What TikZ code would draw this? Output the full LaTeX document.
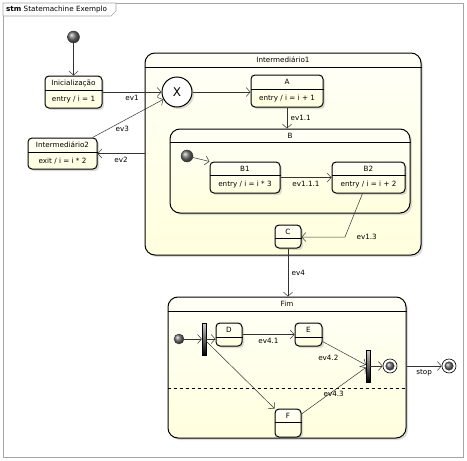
\documentclass[tikz,border=0pt]{standalone}
\usepackage{fontspec}
\setmainfont{DejaVu Sans}
\usetikzlibrary{positioning,arrows.meta,shadows}

\begin{document}
\begin{tikzpicture}[x=1pt,y=-1pt,font=\fontsize{7.2}{8}\selectfont,
  tr/.style={draw=black!80,line width=.5pt,-{Straight Barb[length=4pt,width=9pt]}},
  st/.style={draw,line width=1pt,rounded corners=4pt,top color=yellow!3,bottom color=yellow!13,
    drop shadow={shadow xshift=2pt,shadow yshift=-2pt,fill=black!40,opacity=.35}},
  big/.style={st,rounded corners=10pt},
  div/.style={line width=.5pt},
  ini/.style={circle,minimum size=12,inner sep=0,ball color=black!55,draw=black!80,line width=.4pt},
  fin/.style={circle,draw,fill=white,minimum size=14,inner sep=0,line width=.6pt},
  bar/.style={draw=black,line width=.3pt,top color=black!20,bottom color=black,minimum width=4,minimum height=32,inner sep=0}]
\useasboundingbox (0,0) rectangle (467,461);

% frame
\draw[black!35,line width=.6pt] (3,3) rectangle (463,457);
\draw[black!35,line width=.6pt,fill=white] (3,3) -- (116,3) -- (116,11) -- (111,16) -- (3,16) -- cycle;
\node[anchor=west,inner sep=0] (ttl) at (6,9.5) {\textbf{stm} Statemachine Exemplo};

% composite states
\node[big,minimum width=276,minimum height=202] (im1) at (283,154) {};
\draw[div] ([yshift=-15]im1.north west) -- ([yshift=-15]im1.north east);
\node (im1t) at ([yshift=-7.5]im1.north) {Intermediário1};

\node[big,minimum width=240,minimum height=84] (b) at (290,171) {};
\draw[div] ([yshift=-14]b.north west) -- ([yshift=-14]b.north east);
\node (bt) at ([yshift=-7]b.north) {B};

\node[big,minimum width=238,minimum height=141] (fim) at (287,367.5) {};
\draw[div] ([yshift=-15]fim.north west) -- ([yshift=-15]fim.north east);
\draw[div,dashed] (fim.west |- 0,388) -- (fim.east |- 0,388);
\node (fimt) at ([yshift=-7.5]fim.north) {Fim};

% simple states
\node[ini] (s0) at (73.5,37) {};

\node[st,minimum width=57,minimum height=32] (ini) at (73.5,92) {};
\draw[div] ([yshift=-15]ini.north west) -- ([yshift=-15]ini.north east);
\node (init) at ([yshift=-7.5]ini.north) {Inicialização};
\node (inie) at ([yshift=8.5]ini.south) {entry / i = 1};

\node[st,minimum width=69,minimum height=31] (im2) at (62.5,153.5) {};
\draw[div] ([yshift=-15]im2.north west) -- ([yshift=-15]im2.north east);
\node (im2t) at ([yshift=-7.5]im2.north) {Intermediário2};
\node (im2e) at ([yshift=8]im2.south) {exit / i = i * 2};

\node[circle,draw,fill=white,line width=1pt,minimum size=30,inner sep=0,font=\fontsize{12}{13}\selectfont,
  drop shadow={shadow xshift=2pt,shadow yshift=-2pt,fill=black!40,opacity=.35}] (x) at (177,92) {X};

\node[st,minimum width=72,minimum height=32] (a) at (287,91) {};
\draw[div] ([yshift=-15]a.north west) -- ([yshift=-15]a.north east);
\node (at) at ([yshift=-7.5]a.north) {A};
\node (ae) at ([yshift=8.5]a.south) {entry / i = i + 1};

\node[ini] (b0) at (187,156) {};

\node[st,minimum width=70,minimum height=31] (b1) at (245,177.5) {};
\draw[div] ([yshift=-14]b1.north west) -- ([yshift=-14]b1.north east);
\node (b1t) at ([yshift=-7]b1.north) {B1};
\node (b1e) at ([yshift=8.5]b1.south) {entry / i = i * 3};

\node[st,minimum width=73,minimum height=31] (b2) at (368.5,177.5) {};
\draw[div] ([yshift=-14]b2.north west) -- ([yshift=-14]b2.north east);
\node (b2t) at ([yshift=-7]b2.north) {B2};
\node (b2e) at ([yshift=8.5]b2.south) {entry / i = i + 2};

\node[st,minimum width=26,minimum height=23] (c) at (288,236.5) {};
\draw[div] ([yshift=-14]c.north west) -- ([yshift=-14]c.north east);
\node (ct) at ([yshift=-7]c.north) {C};

% inside Fim
\node[ini,minimum size=10] (f0) at (179,339) {};
\node[bar] (fork) at (204,339) {};

\node[st,minimum width=26,minimum height=23] (d) at (229,334.5) {};
\draw[div] ([yshift=-15]d.north west) -- ([yshift=-15]d.north east);
\node (dt) at ([yshift=-7.5]d.north) {D};

\node[st,minimum width=27,minimum height=23] (e) at (308.5,334.5) {};
\draw[div] ([yshift=-15]e.north west) -- ([yshift=-15]e.north east);
\node (et) at ([yshift=-7.5]e.north) {E};

\node[st,minimum width=26,minimum height=28] (f) at (288,423) {};
\draw[div] ([yshift=-14]f.north west) -- ([yshift=-14]f.north east);
\node (ft) at ([yshift=-7]f.north) {F};

\node[bar] (join) at (368,366) {};
\node[fin] (f1) at (390,366) {};
\node[ini,minimum size=8.5] (f1i) at (f1) {};
\node[fin] (fend) at (449,366) {};
\node[ini,minimum size=8.5] (fendi) at (fend) {};

% transitions
\draw[tr] (s0) -- (ini);
\draw[tr] (ini) -- (x) node[midway,below] {ev1};
\draw[tr] ([xshift=-5]im2.north east) -- (x) node[pos=.42,below=1pt] {ev3};
\draw[tr] (im1.west |- im2) -- (im2) node[midway,below] {ev2};
\draw[tr] (x) -- (x -| a.west);
\draw[tr] (a) -- (a |- b.north) node[midway,right] {ev1.1};
\draw[tr] (b0) -- (b1.north west);
\draw[tr] (b1) -- (b2) node[midway,below] {ev1.1.1};
\coordinate (k) at (345,237);
\draw[tr] ([xshift=-6]b2.south) -- (k) node[right=8pt] {ev1.3} -- (k -| c.east);
\draw[tr] (c) -- (c |- fim.north) node[midway,right] {ev4};
\draw[tr] (f0) -- (fork);
\draw[tr] (fork) -- (fork -| d.west);
\draw[tr] (d) -- (e) node[midway,below] {ev4.1};
\draw[tr] (fork) -- (f.north west);
\draw[tr] ([yshift=-7]e.east) -- (join) node[pos=.45,below left=0pt] {ev4.2};
\draw[tr] ([yshift=9]f.east) -- (join) node[pos=.5,below=-3pt] {ev4.3};
\draw[tr] (join) -- (f1);
\draw[tr] (fim.east |- fend) -- (fend) node[midway,below] {stop};
\end{tikzpicture}
\end{document}
